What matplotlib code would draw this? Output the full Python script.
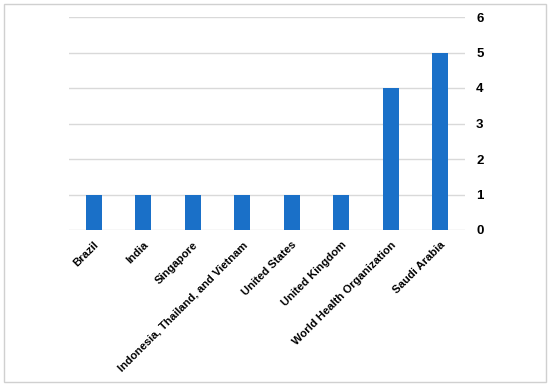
import matplotlib
matplotlib.use('Agg')
import matplotlib.pyplot as plt
from matplotlib.patches import Rectangle

sources = ['Brazil', 'India', 'Singapore', 'Indonesia, Thailand, and Vietnam',
           'United States', 'United Kingdom', 'World Health Organization', 'Saudi Arabia']
counts = [1, 1, 1, 1, 1, 1, 4, 5]
yticks = [0, 1, 2, 3, 4, 5, 6]

plt.rcParams['font.family'] = ['Liberation Sans', 'DejaVu Sans']

fig = plt.figure(figsize=(5.5, 3.86), dpi=100)
ax = fig.add_axes([69/550, 1 - 230/386, 396/550, 213/386])

ax.bar(range(len(sources)), counts, width=0.32, color='#1a70c8', zorder=3)

ax.set_xlim(-0.5, len(sources) - 0.5)
ax.set_ylim(0, 6)
ax.set_yticks(yticks)
ax.yaxis.tick_right()
ax.tick_params(axis='y', length=0, pad=8, labelsize=9.5)
ax.tick_params(axis='x', length=0, pad=7)
for lbl in ax.get_yticklabels():
    lbl.set_fontweight('bold')
ax.set_xticks(range(len(sources)))
ax.set_xticklabels(sources, rotation=45, ha='right', rotation_mode='anchor',
                   fontsize=8.1, fontweight='bold')
ax.grid(axis='y', color='#d9d9d9', linewidth=1, zorder=0)
for s in ax.spines.values():
    s.set_visible(False)

fig.patches.append(Rectangle((4/550, 4/386), 542/550, 378/386, transform=fig.transFigure,
                             fill=False, edgecolor='#d0d0d0', linewidth=1))

fig.savefig('out.png', dpi=100)
